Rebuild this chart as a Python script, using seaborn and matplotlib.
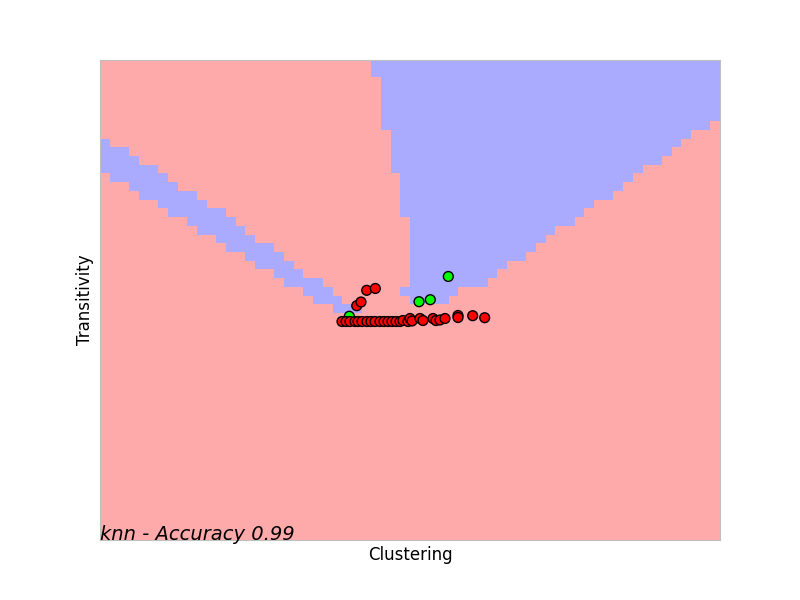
import numpy as np
import pandas as pd
import matplotlib
matplotlib.use("Agg")
import matplotlib.pyplot as plt
from matplotlib.colors import ListedColormap
import seaborn as sns

# ---- decision-region grid (mesh step 0.02) ----
h = 0.02
n_cols, n_rows = 64, 55
x_min, y_min = 0.0, 0.0

# diagonal blue band: columns 0..26, rows counted from the top (start, stop)
band_top = [9, 10, 10, 11, 12, 12, 13, 14, 15, 15, 16, 17, 17, 18, 19, 20, 21, 21,
            22, 23, 24, 25, 25, 26, 27, 28, 28]
band_stop = [13, 14, 14, 15, 16, 16, 17, 18, 18, 19, 20, 20, 21, 22, 22, 23, 24, 24,
             25, 26, 26, 27, 28, 28, 29, 29, 29]
# upper-right blue region: columns 28..63, blue from the top row down to stop
upper_stop = [2, 8, 13, 18, 28, 28, 28, 28, 27, 26, 26, 26, 25, 24, 23, 23, 22, 21,
              20, 19, 19, 18, 17, 16, 16, 15, 14, 13, 12, 12, 11, 10, 9, 8, 8, 7]
extra_cells = [(31, 26)]  # (column, row from top)

# ---- samples ----
red_clustering = [0.4996, 0.5079, 0.5161, 0.5265, 0.5326, 0.5409, 0.5512, 0.5595,
                  0.5677, 0.5781, 0.5863, 0.5946, 0.6028, 0.6111, 0.6194, 0.6255,
                  0.6359, 0.6400, 0.6441, 0.6606, 0.6668, 0.6875, 0.6937, 0.7019,
                  0.7123, 0.7391, 0.7391, 0.7694, 0.7942,
                  0.5506, 0.5684, 0.5300, 0.5388]
red_transitivity = [0.5007, 0.5007, 0.5007, 0.5007, 0.5007, 0.5007, 0.5007, 0.5007,
                    0.5007, 0.5007, 0.5007, 0.5007, 0.5007, 0.5007, 0.5007, 0.5030,
                    0.5007, 0.5076, 0.5019, 0.5076, 0.5030, 0.5076, 0.5030, 0.5042,
                    0.5076, 0.5145, 0.5099, 0.5140, 0.5094,
                    0.5722, 0.5764, 0.5369, 0.5454]
green_clustering = [0.7191, 0.6586, 0.6819, 0.5147]
green_transitivity = [0.6039, 0.5461, 0.5507, 0.5127]

accuracy_text = "knn - Accuracy 0.99"

# ---- build grid ----
Z = np.zeros((n_rows, n_cols))
for c, (t, s) in enumerate(zip(band_top, band_stop)):
    Z[t:s, c] = 1
for i, s in enumerate(upper_stop):
    Z[0:s, 28 + i] = 1
for c, r in extra_cells:
    Z[r, c] = 1
Z = Z[::-1]  # rows from bottom

x_edges = x_min + h * np.arange(n_cols + 1)
y_edges = y_min + h * np.arange(n_rows + 1)

df = pd.DataFrame({
    "Clustering": green_clustering + red_clustering,
    "Transitivity": green_transitivity + red_transitivity,
    "cls": ["b"] * len(green_clustering) + ["a"] * len(red_clustering),
})

sns.set_style("whitegrid")
fig, ax = plt.subplots(figsize=(8, 6), dpi=100)
fig.subplots_adjust(left=0.125, right=0.9, bottom=0.1, top=0.9)
ax.pcolormesh(x_edges, y_edges, Z, cmap=ListedColormap(["#FFAAAA", "#AAAAFF"]),
              vmin=0, vmax=1, shading="flat")
sns.scatterplot(data=df, x="Clustering", y="Transitivity", hue="cls",
                palette={"a": "#FF0000", "b": "#00FF00"}, edgecolor="k",
                linewidth=1, s=50, legend=False, ax=ax, zorder=3)
ax.set_xlim(x_edges[0], x_edges[-1])
ax.set_ylim(y_edges[0], y_edges[-1])
ax.set_xticks([])
ax.set_yticks([])
ax.grid(False)
ax.set_xlabel("Clustering", fontsize=12, color="black")
ax.set_ylabel("Transitivity", fontsize=12, color="black")
ax.text(x_edges[0], y_edges[0], accuracy_text, fontsize=14, style="italic",
        ha="left", va="baseline", color="black")
for sp in ax.spines.values():
    sp.set_color("#bfbfbf")
fig.savefig("out.png", dpi=100)
